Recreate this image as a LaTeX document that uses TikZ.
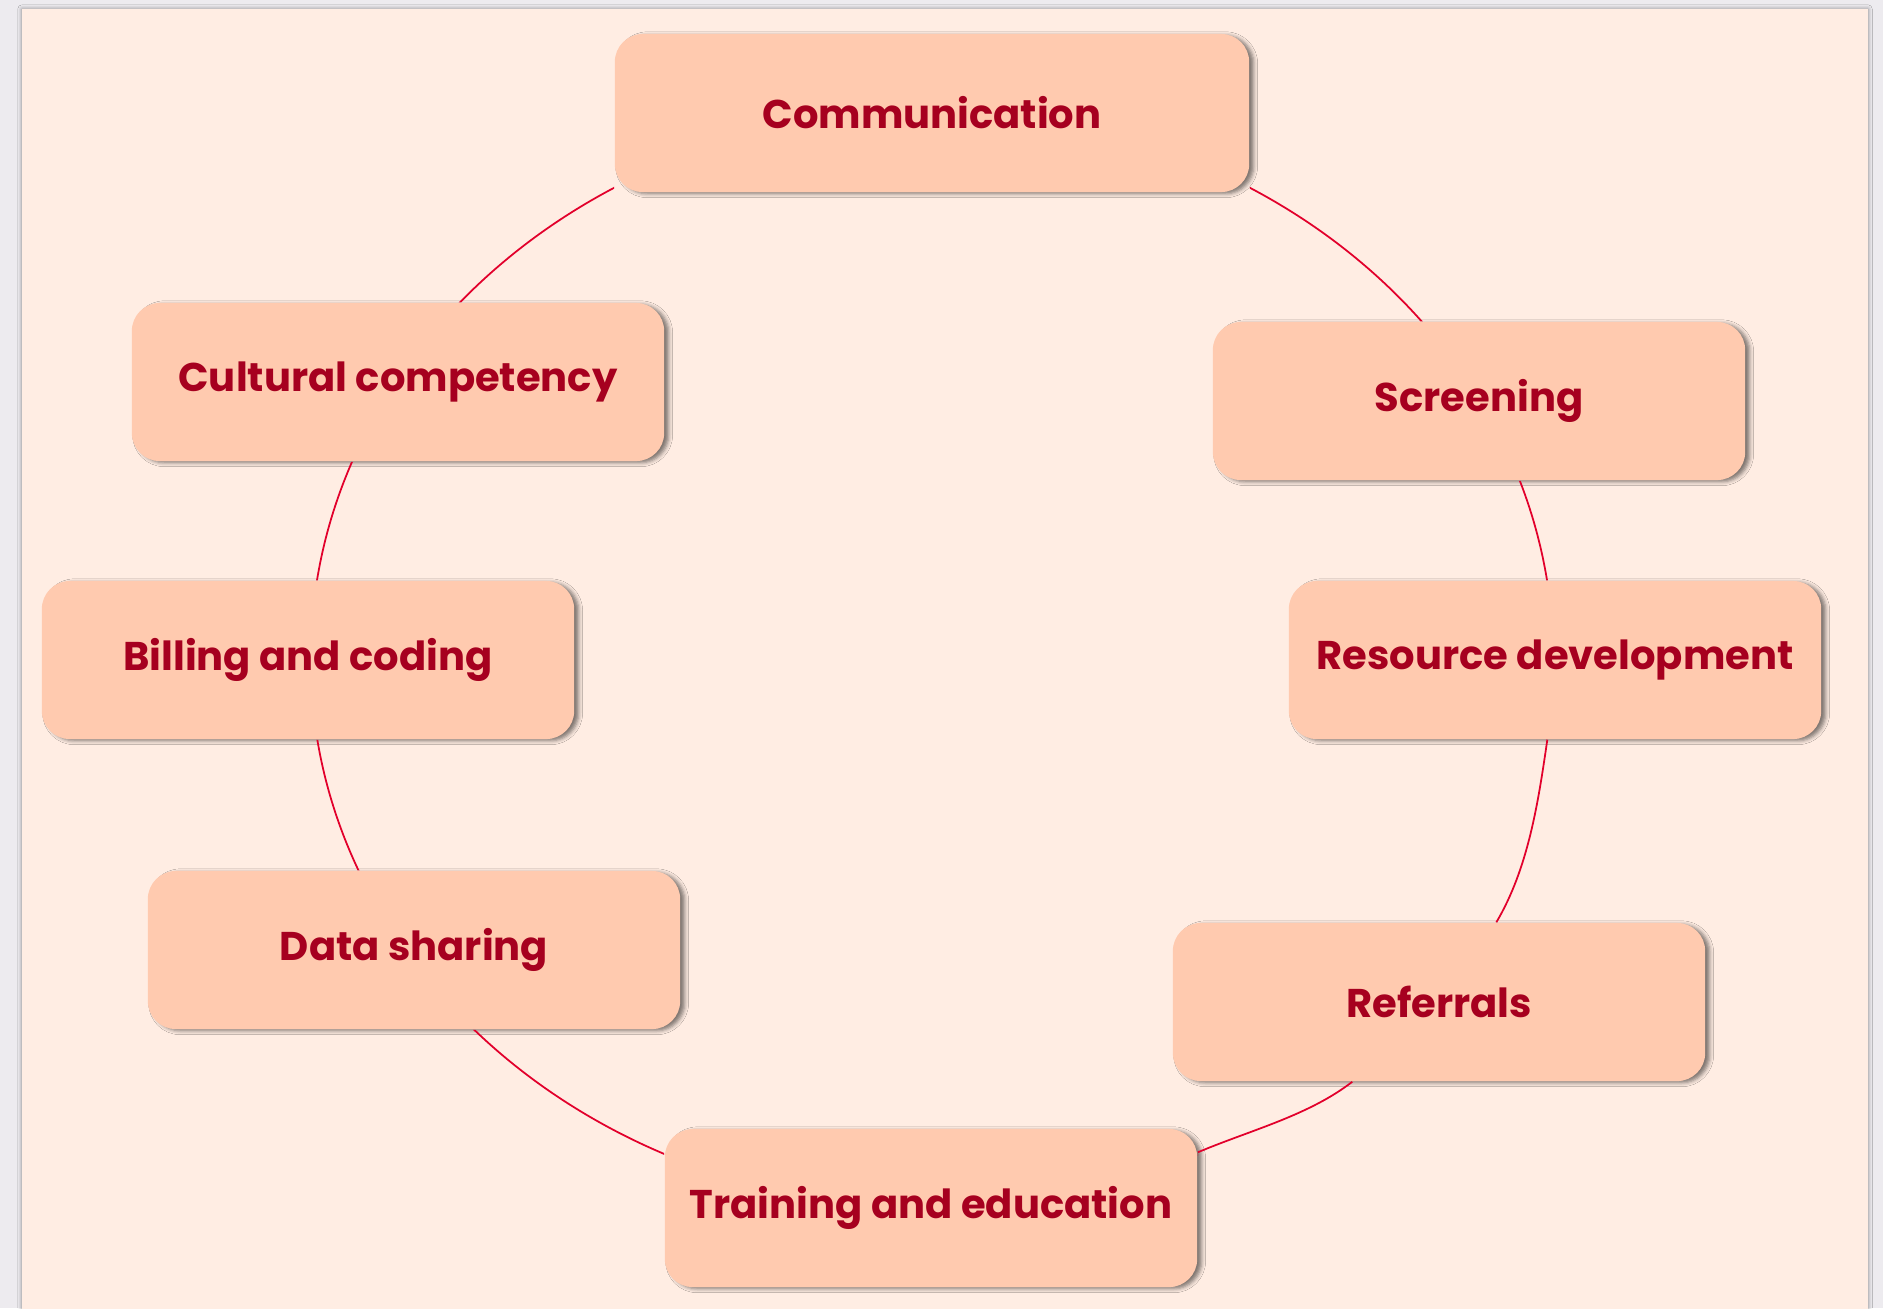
\documentclass[tikz,border=0pt]{standalone}
\usepackage{fontspec}
\setmainfont{Poppins}
\usetikzlibrary{shadows.blur}
\definecolor{deskgrey}{HTML}{EDEBEF}
\definecolor{pagepeach}{HTML}{FFEDE3}
\definecolor{boxpeach}{HTML}{FFCAAF}
\definecolor{labelred}{HTML}{A6001F}
\definecolor{ringred}{HTML}{E2002B}
\begin{document}
\begin{tikzpicture}[x=0.01cm,y=-0.01cm,
  topic/.style={rectangle, rounded corners=0.28cm, fill=boxpeach,
    minimum width=5.32cm, minimum height=1.58cm, inner sep=0pt,
    text=labelred, font=\fontsize{11.4}{14}\selectfont\bfseries,
    blur shadow={shadow xshift=1.3pt, shadow yshift=-0.5pt,
      shadow blur radius=1.1pt, shadow opacity=50}},
  ring/.style={draw=ringred, line width=0.5pt}]
\useasboundingbox (0,0) rectangle (1883,1308);
\fill[deskgrey] (0,0) rectangle (1883,1308);
% sheet
\fill[pagepeach, blur shadow={shadow xshift=0pt, shadow yshift=0pt,
  shadow blur radius=1.2pt, shadow opacity=40}] (22,9) rectangle (1868,1340);

% topics around the ring
\node[topic, minimum width=6.34cm] (comm) at (932,113) {Communication};
\node[topic] (cult)  at (398,382)  {Cultural competency};
\node[topic] (scr)   at (1479,401) {Screening};
\node[topic] (bill)  at (308,660)  {Billing and coding};
\node[topic] (res)   at (1555,660) {Resource development};
\node[topic] (data)  at (414,950)  {Data sharing};
\node[topic] (ref)   at (1439,1002) {Referrals};
\node[topic] (train) at (931,1208) {Training and education};

% ring joining the topics, cut away inside each box
% (the lower right stretch is drawn separately below)
\coordinate (ctr) at (932,659);
\begin{scope}[even odd rule]
  \clip (0,0) rectangle (1883,1308)
    (comm.south west) rectangle (comm.north east)
    (cult.south west) rectangle (cult.north east)
    (scr.south west) rectangle (scr.north east)
    (bill.south west) rectangle (bill.north east)
    (res.south west) rectangle (res.north east)
    (data.south west) rectangle (data.north east)
    (train.south west) rectangle (train.north east)
    (1198,740) rectangle (1883,1308);
  \draw[ring] (ctr) ellipse [x radius=6.21cm, y radius=5.48cm];
\end{scope}

% lower right: resource development -> referrals -> training
\coordinate (resout) at ([xshift=2.59cm]res.south west);
\coordinate (refin)  at ([xshift=3.24cm]ref.north west);
\coordinate (refout) at ([xshift=1.80cm]ref.south west);
\coordinate (trainin) at ([yshift=-0.24cm]train.north east);
\draw[ring] (resout) .. controls ++(-9,62) and ++(32,-54) .. (refin);
\draw[ring] (refout) .. controls ++(-44,34) and ++(52,-22) .. (trainin);
\end{tikzpicture}
\end{document}
